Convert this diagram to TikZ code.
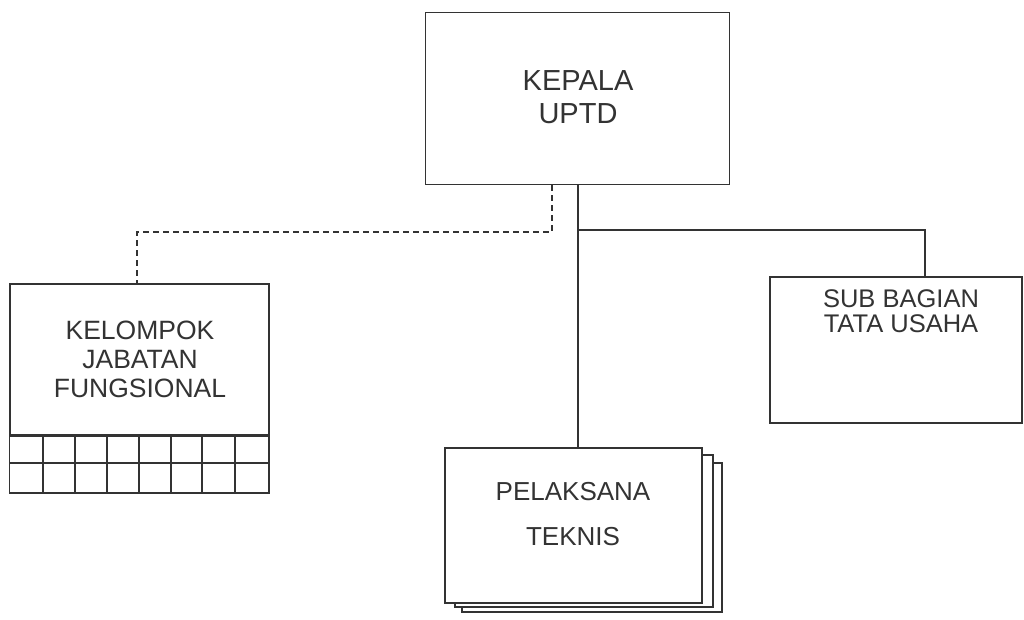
\documentclass[tikz,border=0pt]{standalone}
\usepackage{fontspec}
\setmainfont{Liberation Sans}
\begin{document}
\begin{tikzpicture}[x=1pt,y=-1pt,
  ln/.style={draw=black!80, line width=1.5pt},
  box/.style={ln, fill=white, rectangle, inner sep=0pt},
  txt/.style={text=black!80, align=center, inner sep=0pt},
  dsh/.style={ln, dash pattern=on 6pt off 4pt}]
\useasboundingbox[fill=white] (0,0) rectangle (1024,619);
% boxes
\node[box, minimum width=304pt, minimum height=172pt] (kepala) at (577.5,98.5) {};
\node[txt, font=\fontsize{29}{33}\selectfont] (kepalat) at (578,97) {KEPALA\\UPTD};

\node[box, minimum width=259pt, minimum height=151pt] (kelompok) at (139.5,359.5) {};
\node[txt, font=\fontsize{26.5}{29}\selectfont] (kelompokt) at (140,359) {KELOMPOK\\JABATAN\\FUNGSIONAL};

\node[box, minimum width=252pt, minimum height=146pt] (sub) at (896,350) {};
\node[txt, font=\fontsize{25.5}{25}\selectfont] (subt) at (901,311) {SUB BAGIAN\\TATA USAHA};

\node[box, minimum width=260pt, minimum height=149pt] (pel3) at (592,537.5) {};
\node[box, minimum width=258pt, minimum height=152pt] (pel2) at (584,531) {};
\node[box, minimum width=257pt, minimum height=155pt] (pel) at (573.5,525.5) {};
\node[txt, font=\fontsize{26}{45}\selectfont] (pelt) at (573,514) {PELAKSANA\\TEKNIS};

% grid under kelompok
\draw[ln] (kelompok.south west) rectangle (269,493);
\draw[ln] (10,463) -- (269,463);
\foreach \gx in {43,75,107,139,171,202,235} \draw[ln] (\gx,435) -- (\gx,493);

% connectors
\coordinate (tx) at (578,0);
\coordinate (jx) at (230,230);
\coordinate (sx) at (925,0);
\draw[ln] (kepala.south -| tx) -- (pel.north -| tx);
\draw[ln] (jx -| tx) -- (jx -| sx) -- (sub.north -| sx);
\coordinate (dx) at (552,0);
\coordinate (dy) at (0,232);
\coordinate (kx) at (137,0);
\draw[dsh] (kepala.south -| dx) -- (dy -| dx) -- (dy -| kx) -- (kelompok.north -| kx);
\end{tikzpicture}
\end{document}
